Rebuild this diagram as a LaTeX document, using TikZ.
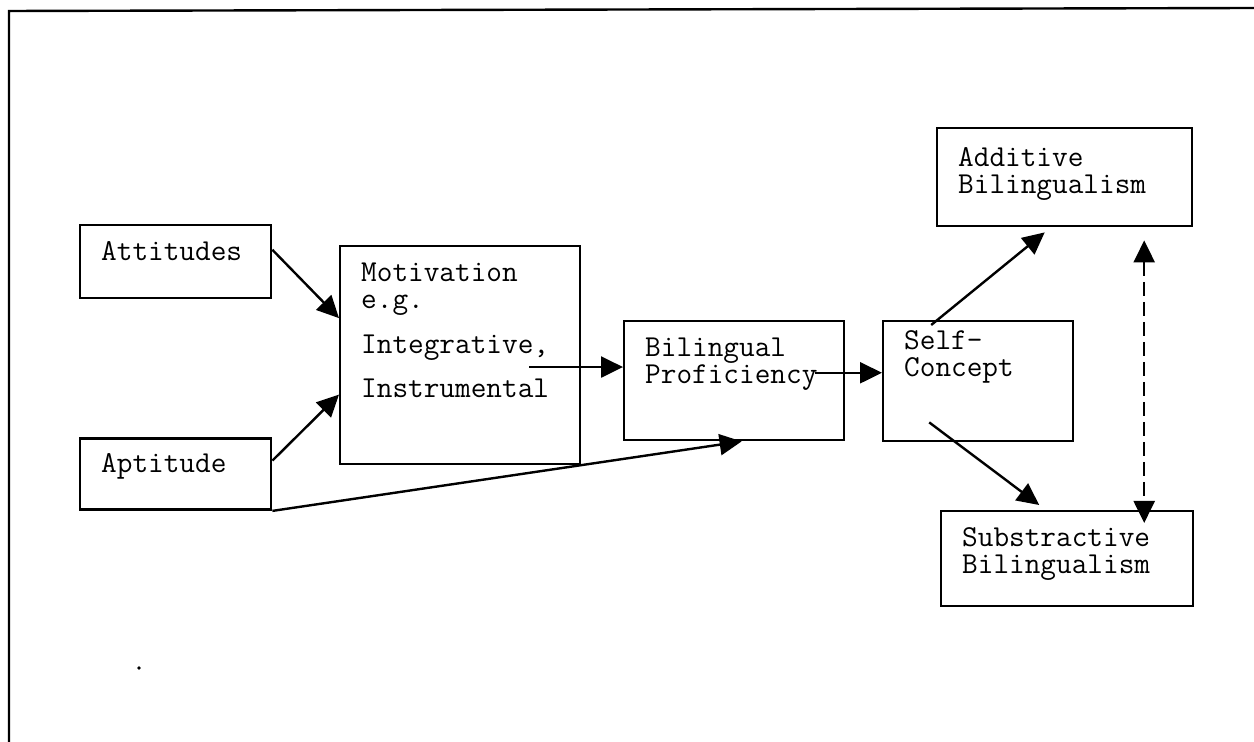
\documentclass[tikz,border=0pt]{standalone}
\usepackage{fontspec}
\usetikzlibrary{arrows.meta}

\begin{document}
\begin{tikzpicture}[
        x=0.5pt, y=-0.5pt,
        block/.style={rectangle, draw, line width=1.2pt, anchor=north west, align=left, inner xsep=10.5pt, inner ysep=0pt, text height=17.5pt, font=\ttfamily\fontsize{15.2pt}{13.75pt}\selectfont},
        link/.style={line width=1.2pt, -{Triangle[length=11pt, width=10.5pt]}},
        duallink/.style={line width=1.2pt, dash pattern=on 7pt off 3pt, {Triangle[length=11pt, width=10.5pt]}-{Triangle[length=11pt, width=10.5pt]}}
    ]
        \useasboundingbox (0,0) rectangle (1254,742);

        % frame of the page
        \draw[line width=1.2pt] (9,742) -- (9,11) -- (1254,8);
        \fill (139,668) circle (0.9pt);

        % Inputs
        \node[block, text width=74.5pt, text depth=19pt] (attitudes) at (79,224) {Attitudes};
        \node[block, text width=74.5pt, text height=17pt, text depth=18.5pt] (aptitude) at (79,437.5) {Aptitude};

        % Motivation and proficiency
        \node[block, text width=99pt, text depth=91.5pt] (motiv) at (339,245) {Motivation\\e.g.\\[8.5pt]Integrative,\\[8.5pt]Instrumental};
        \node[block, text width=89pt, text depth=42pt] (prof) at (623,320) {Bilingual\\Proficiency};
        \node[block, text width=74pt, text height=14pt, text depth=46pt] (self) at (882,320) {Self-\\Concept};

        % Outcomes
        \node[block, text width=106.5pt, text height=19pt, text depth=30pt] (add) at (936,127) {Additive\\Bilingualism};
        \node[block, text width=105pt, text depth=30pt] (sub) at (940,510) {Substractive\\Bilingualism};

        \draw[link] (attitudes.7) -- (motiv.163);
        \draw[link] (aptitude.8) -- (motiv.198);
        \draw[link] (aptitude.south east) -- (prof.-83);
        \draw[link] ([xshift=-26pt]motiv.east |- prof.173) -- (prof.173);
        \draw[link] ([xshift=-15pt]prof.east |- self.175) -- (self.175);
        \draw[link] ([xshift=-23.5pt,yshift=-2.5pt]self.north) -- ([xshift=-10pt,yshift=-2.5pt]add.south);
        \draw[link] ([xshift=-24.5pt,yshift=10pt]self.south) -- ([xshift=-14pt,yshift=2.5pt]sub.north);
        \draw[duallink] ([xshift=39.75pt,yshift=-6.5pt]add.south) -- ([xshift=39.75pt,yshift=-6.5pt]add.south |- sub.north);

    \end{tikzpicture}
\end{document}
